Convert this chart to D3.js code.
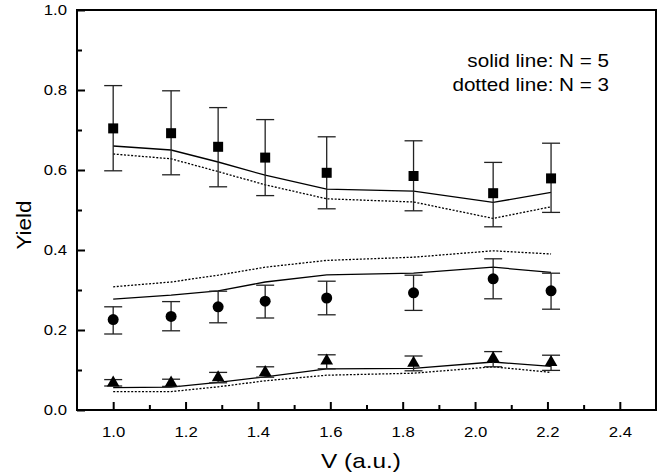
<!DOCTYPE html>
<html>
<head>
<meta charset="utf-8">
<script src="https://cdn.jsdelivr.net/npm/d3@7"></script>
<style>
  html, body { margin: 0; padding: 0; background: #fff; }
  svg { display: block; }
  text { font-family: "Liberation Sans", Arial, Helvetica, sans-serif; fill: #000; }
</style>
</head>
<body>
<svg id="chart" width="666" height="476"></svg>
<script>
// ---- data ----
const voltages = [1.0, 1.16, 1.29, 1.42, 1.59, 1.83, 2.05, 2.21];

const squareYield = [0.704, 0.692, 0.658, 0.631, 0.593, 0.585, 0.542, 0.579];
const squareHi    = [0.811, 0.798, 0.756, 0.726, 0.683, 0.673, 0.619, 0.667];
const squareLo    = [0.598, 0.588, 0.558, 0.536, 0.503, 0.498, 0.458, 0.494];

const circleYield = [0.226, 0.234, 0.258, 0.272, 0.280, 0.293, 0.328, 0.298];
const circleHi    = [0.258, 0.271, 0.297, 0.312, 0.322, 0.337, 0.378, 0.342];
const circleLo    = [0.190, 0.198, 0.218, 0.230, 0.238, 0.249, 0.278, 0.252];

const triYield = [0.068, 0.068, 0.081, 0.094, 0.123, 0.117, 0.129, 0.119];
const triHi    = [0.076, 0.077, 0.094, 0.108, 0.138, 0.135, 0.146, 0.137];
const triLo    = [0.060, 0.059, 0.068, 0.082, 0.103, 0.098, 0.108, 0.099];

const upperN5 = [0.660, 0.650, 0.620, 0.587, 0.552, 0.547, 0.519, 0.544];
const upperN3 = [0.640, 0.628, 0.596, 0.563, 0.528, 0.520, 0.479, 0.508];
const midN5   = [0.277, 0.287, 0.298, 0.320, 0.338, 0.342, 0.357, 0.344];
const midN3   = [0.308, 0.320, 0.337, 0.357, 0.374, 0.382, 0.398, 0.390];
const lowN5   = [0.056, 0.057, 0.069, 0.083, 0.103, 0.104, 0.120, 0.109];
const lowN3   = [0.046, 0.046, 0.058, 0.073, 0.087, 0.092, 0.108, 0.094];

const xTicks = [1.0, 1.2, 1.4, 1.6, 1.8, 2.0, 2.2, 2.4];
const xMinor = [1.1, 1.3, 1.5, 1.7, 1.9, 2.1, 2.3];
const yTicks = [0.0, 0.2, 0.4, 0.6, 0.8, 1.0];
const yMinor = [0.1, 0.3, 0.5, 0.7, 0.9];

const legendLines = ["solid line: N = 5", "dotted line: N = 3"];
const xTitle = "V (a.u.)";
const yTitle = "Yield";

// ---- layout ----
const L = 77, T = 10, R = 656, B = 410;
const svg = d3.select("#chart");

const x = d3.scaleLinear().domain([0.9, 2.5]).range([L, R]);
const y = d3.scaleLinear().domain([0, 1.0]).range([B, T]);

const fmt = d3.format(".1f");
const tickStretch = 1.08;

// major ticks (inward), labels
const xAxis = d3.axisBottom(x).tickValues(xTicks).tickFormat(fmt).tickSizeInner(-8).tickSizeOuter(0).tickPadding(16);
const gx = svg.append("g").attr("transform", `translate(0,${B})`).call(xAxis);
gx.select(".domain").remove();
gx.selectAll(".tick line").attr("stroke", "#000").attr("stroke-width", 2);
gx.selectAll(".tick text").attr("font-size", 15.5).attr("font-family", null)
  .attr("transform", `scale(${tickStretch},1)`);

const xAxisMinor = d3.axisBottom(x).tickValues(xMinor).tickFormat("").tickSizeInner(-5).tickSizeOuter(0);
const gxm = svg.append("g").attr("transform", `translate(0,${B})`).call(xAxisMinor);
gxm.select(".domain").remove();
gxm.selectAll(".tick line").attr("stroke", "#000").attr("stroke-width", 2);

const yPad = 10;
const yAxis = d3.axisLeft(y).tickValues(yTicks).tickFormat(fmt).tickSizeInner(-8).tickSizeOuter(0).tickPadding(yPad);
const gy = svg.append("g").attr("transform", `translate(${L},0)`).call(yAxis);
gy.select(".domain").remove();
gy.selectAll(".tick line").attr("stroke", "#000").attr("stroke-width", 2);
gy.selectAll(".tick text").attr("font-size", 15.5).attr("font-family", null)
  .attr("x", -yPad / tickStretch)
  .attr("transform", `scale(${tickStretch},1)`);

const yAxisMinor = d3.axisLeft(y).tickValues(yMinor).tickFormat("").tickSizeInner(-5).tickSizeOuter(0);
const gym = svg.append("g").attr("transform", `translate(${L},0)`).call(yAxisMinor);
gym.select(".domain").remove();
gym.selectAll(".tick line").attr("stroke", "#000").attr("stroke-width", 2);

// frame
svg.append("rect").attr("x", L).attr("y", T).attr("width", R - L).attr("height", B - T)
  .attr("fill", "none").attr("stroke", "#000").attr("stroke-width", 2);

// model lines
const line = d3.line().x((d, i) => x(voltages[i])).y(d => y(d));
const modelSeries = [
  { v: upperN5, dash: null }, { v: upperN3, dash: "2,1.6" },
  { v: midN5, dash: null },   { v: midN3, dash: "2,1.6" },
  { v: lowN5, dash: null },   { v: lowN3, dash: "2,1.6" }
];
svg.append("g").selectAll("path").data(modelSeries).join("path")
  .attr("d", s => line(s.v))
  .attr("fill", "none").attr("stroke", "#000").attr("stroke-width", 1.3)
  .attr("stroke-dasharray", s => s.dash);

// error bars
const errSets = [
  { hi: squareHi, lo: squareLo },
  { hi: circleHi, lo: circleLo },
  { hi: triHi, lo: triLo }
];
const cap = 9;
errSets.forEach(s => {
  const g = svg.append("g").attr("stroke", "#222").attr("stroke-width", 1.3);
  voltages.forEach((v, i) => {
    const cx = x(v);
    g.append("line").attr("x1", cx).attr("x2", cx).attr("y1", y(s.hi[i])).attr("y2", y(s.lo[i]));
    g.append("line").attr("x1", cx - cap).attr("x2", cx + cap).attr("y1", y(s.hi[i])).attr("y2", y(s.hi[i]));
    g.append("line").attr("x1", cx - cap).attr("x2", cx + cap).attr("y1", y(s.lo[i])).attr("y2", y(s.lo[i]));
  });
});

// markers
const sqSize = 10;
svg.append("g").selectAll("rect").data(squareYield).join("rect")
  .attr("x", (d, i) => x(voltages[i]) - sqSize / 2).attr("y", d => y(d) - sqSize / 2)
  .attr("width", sqSize).attr("height", sqSize).attr("fill", "#000");

svg.append("g").selectAll("circle").data(circleYield).join("circle")
  .attr("cx", (d, i) => x(voltages[i])).attr("cy", d => y(d)).attr("r", 5.5).attr("fill", "#000");

const tri = d3.symbol().type(d3.symbolTriangle).size(70);
svg.append("g").selectAll("path").data(triYield).join("path")
  .attr("d", tri)
  .attr("transform", (d, i) => `translate(${x(voltages[i])},${y(d)})`)
  .attr("fill", "#000");

// legend text (horizontally stretched like the original)
svg.append("g").selectAll("text").data(legendLines).join("text")
  .attr("transform", (d, i) => `translate(609,${67 + i * 24}) scale(1.18,1)`)
  .attr("text-anchor", "end").attr("font-size", 17.5)
  .text(d => d);

// axis titles
svg.append("text").attr("transform", "translate(361,468) scale(1.22,1)")
  .attr("text-anchor", "middle").attr("font-size", 20).text(xTitle);
svg.append("text").attr("transform", "translate(31,225) rotate(-90) scale(1.12,1)")
  .attr("text-anchor", "middle").attr("font-size", 20).text(yTitle);
</script>
</body>
</html>
